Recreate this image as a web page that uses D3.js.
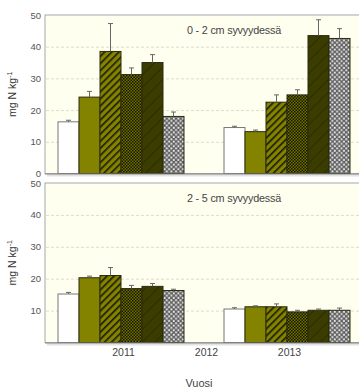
<!DOCTYPE html>
<html>
<head>
<meta charset="utf-8">
<script src="https://cdn.jsdelivr.net/npm/d3@7"></script>
<style>
  html, body { margin: 0; padding: 0; background: #fff; }
  svg { display: block; font-family: "Liberation Sans", Arial, sans-serif; }
</style>
</head>
<body>
<svg id="chart" width="359" height="388"></svg>
<script>
// Years on the x axis (2012 has no samples)
const years = ["2011", "2012", "2013"];
// Treatment series, drawn left to right within each year
const series = ["s1", "s2", "s3", "s4", "s5", "s6"];

// Mineral N, 0-2 cm depth (mg N kg-1), per series, for 2011 and 2013
const top2011 = [16.3, 24.1, 38.5, 31.2, 35.0, 18.0];
const topErr2011 = [0.5, 1.8, 8.8, 2.1, 2.5, 1.4];
const top2013 = [14.5, 13.2, 22.5, 24.8, 43.5, 42.6];
const topErr2013 = [0.4, 0.5, 2.3, 1.6, 5.0, 3.1];

// Mineral N, 2-5 cm depth
const bot2011 = [15.2, 20.3, 21.0, 16.9, 17.6, 16.3];
const botErr2011 = [0.5, 0.5, 2.5, 1.0, 0.9, 0.4];
const bot2013 = [10.5, 11.2, 11.2, 9.6, 10.1, 10.1];
const botErr2013 = [0.4, 0.3, 0.9, 0.5, 0.4, 0.7];

const topTicks = [0, 10, 20, 30, 40, 50];
const botTicks = [10, 20, 30, 40, 50];
const topTitle = "0 - 2 cm syvyydessä";
const botTitle = "2 - 5 cm syvyydessä";
const xTitle = "Vuosi";

const svg = d3.select("#chart");
const defs = svg.append("defs");

const OLIVE = "#838300";
const DARK = "#3a3c00";

// Fill patterns for the six treatments
const hatch = defs.append("pattern").attr("id", "hatch")
  .attr("patternUnits", "userSpaceOnUse").attr("width", 5).attr("height", 5)
  .attr("patternTransform", "rotate(45)");
hatch.append("rect").attr("width", 5).attr("height", 5).attr("fill", OLIVE);
hatch.append("rect").attr("x", 0).attr("width", 1.6).attr("height", 5).attr("fill", "#1a1a00");

const dots = defs.append("pattern").attr("id", "dots")
  .attr("patternUnits", "userSpaceOnUse").attr("width", 3).attr("height", 3);
dots.append("rect").attr("width", 3).attr("height", 3).attr("fill", "#6f7000");
dots.append("rect").attr("width", 1.5).attr("height", 1.5).attr("fill", "#151500");
dots.append("rect").attr("x", 1.5).attr("y", 1.5).attr("width", 1.5).attr("height", 1.5).attr("fill", "#151500");

const dark = defs.append("pattern").attr("id", "darkdiag")
  .attr("patternUnits", "userSpaceOnUse").attr("width", 9).attr("height", 9)
  .attr("patternTransform", "rotate(45)");
dark.append("rect").attr("width", 9).attr("height", 9).attr("fill", DARK);
dark.append("rect").attr("width", 1).attr("height", 9).attr("fill", "#2c2e00");

const checker = defs.append("pattern").attr("id", "checker")
  .attr("patternUnits", "userSpaceOnUse").attr("width", 4.6).attr("height", 4.6);
checker.append("rect").attr("width", 4.6).attr("height", 4.6).attr("fill", "#5e5e5e");
checker.append("rect").attr("x", 0.3).attr("y", 0.3).attr("width", 1.9).attr("height", 1.9).attr("fill", "#ececec");
checker.append("rect").attr("x", 2.6).attr("y", 2.6).attr("width", 1.9).attr("height", 1.9).attr("fill", "#ececec");

const fills = ["#ffffff", OLIVE, "url(#hatch)", "url(#dots)", "url(#darkdiag)", "url(#checker)"];

const x = d3.scalePoint().domain(years).range([121, 287]);
const xs = d3.scaleBand().domain(series).range([-63, 63]);

const plotLeft = 45, plotRight = 364;

function panel(cfg) {
  const g = svg.append("g");
  const y = d3.scaleLinear().domain([0, 50]).range([cfg.bottom, cfg.top]);

  // shadowed frame with ivory plot area
  g.append("rect")
    .attr("x", plotLeft + 2).attr("y", cfg.top + 2)
    .attr("width", plotRight - plotLeft).attr("height", cfg.bottom - cfg.top + 1)
    .attr("fill", "#e2e2e2");
  g.append("rect")
    .attr("x", plotLeft).attr("y", cfg.top)
    .attr("width", plotRight - plotLeft).attr("height", cfg.bottom - cfg.top)
    .attr("fill", "#fffff0").attr("stroke", "#a8a8a8").attr("stroke-width", 1);

  // dashed gridlines
  g.selectAll(".grid").data([10, 20, 30, 40]).join("line")
    .attr("x1", plotLeft + 1).attr("x2", plotRight)
    .attr("y1", d => y(d) + 0.5).attr("y2", d => y(d) + 0.5)
    .attr("stroke", "#dcdcd0").attr("stroke-dasharray", "3,2").attr("stroke-width", 1);

  // y axis labels
  const ax = g.append("g").attr("transform", `translate(${plotLeft},0)`)
    .call(d3.axisLeft(y).tickValues(cfg.ticks).tickSize(0).tickPadding(4));
  ax.select(".domain").remove();
  ax.selectAll("text").attr("fill", "#555").attr("font-size", 9.5)
    .attr("font-family", "Liberation Sans, Arial, sans-serif");

  // bars per year
  cfg.groups.forEach(grp => {
    const cx = x(grp.year);
    const bg = g.append("g");
    bg.selectAll("rect").data(grp.values).join("rect")
      .attr("x", (d, i) => cx + xs(series[i]))
      .attr("y", d => y(d))
      .attr("width", xs.bandwidth())
      .attr("height", d => y(0) - y(d))
      .attr("fill", (d, i) => fills[i])
      .attr("stroke", (d, i) => i === 0 ? "#777" : "#2a2a10")
      .attr("stroke-width", 1);

    // upper error bars
    const eb = bg.selectAll(".eb").data(grp.values).join("g");
    eb.append("line")
      .attr("x1", (d, i) => cx + xs(series[i]) + xs.bandwidth() / 2)
      .attr("x2", (d, i) => cx + xs(series[i]) + xs.bandwidth() / 2)
      .attr("y1", d => y(d))
      .attr("y2", (d, i) => y(d + grp.err[i]))
      .attr("stroke", "#666").attr("stroke-width", 1);
    eb.append("line")
      .attr("x1", (d, i) => cx + xs(series[i]) + xs.bandwidth() / 2 - 2.5)
      .attr("x2", (d, i) => cx + xs(series[i]) + xs.bandwidth() / 2 + 2.5)
      .attr("y1", (d, i) => y(d + grp.err[i]))
      .attr("y2", (d, i) => y(d + grp.err[i]))
      .attr("stroke", "#666").attr("stroke-width", 1);
  });

  // bottom axis line
  g.append("line").attr("x1", plotLeft).attr("x2", plotRight)
    .attr("y1", cfg.bottom + 0.5).attr("y2", cfg.bottom + 0.5)
    .attr("stroke", "#8a8a8a").attr("stroke-width", 1.2);

  // depth title
  g.append("text").attr("x", 187).attr("y", cfg.top + 19)
    .attr("font-size", 10.8).attr("fill", "#444").attr("letter-spacing", -0.2)
    .text(cfg.title);

  // y axis title
  const yt = g.append("text")
    .attr("transform", `translate(16,${(cfg.top + cfg.bottom) / 2}) rotate(-90)`)
    .attr("text-anchor", "middle").attr("font-size", 10.5).attr("fill", "#333");
  yt.append("tspan").text("mg N kg");
  yt.append("tspan").attr("dy", -4).attr("font-size", 7).text("-1");
}

panel({
  top: 15, bottom: 173.5, ticks: topTicks, title: topTitle,
  groups: [
    { year: "2011", values: top2011, err: topErr2011 },
    { year: "2013", values: top2013, err: topErr2013 }
  ]
});

panel({
  top: 183, bottom: 342.5, ticks: botTicks, title: botTitle,
  groups: [
    { year: "2011", values: bot2011, err: botErr2011 },
    { year: "2013", values: bot2013, err: botErr2013 }
  ]
});

// x axis year labels and title
const xa = svg.append("g").attr("transform", "translate(2,343)")
  .call(d3.axisBottom(x).tickSize(0).tickPadding(6));
xa.select(".domain").remove();
xa.selectAll("text").attr("fill", "#444").attr("font-size", 10.5)
  .attr("font-family", "Liberation Sans, Arial, sans-serif");

svg.append("text").attr("x", 199).attr("y", 387)
  .attr("text-anchor", "middle").attr("font-size", 11).attr("fill", "#444")
  .text(xTitle);
</script>
</body>
</html>
